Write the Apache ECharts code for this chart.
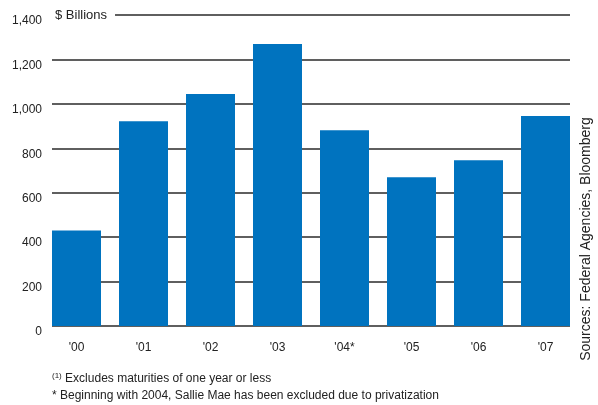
<!DOCTYPE html>
<html>
<head>
<meta charset="utf-8">
<script src="https://cdn.jsdelivr.net/npm/echarts@6/dist/echarts.min.js"></script>
<style>
  html, body { margin: 0; padding: 0; background: #fff; }
  #chart { width: 598px; height: 405px; }
</style>
</head>
<body>
<div id="chart"></div>
<script>
// Annual issuance, $ billions
const years = ["'00", "'01", "'02", "'03", "'04*", "'05", "'06", "'07"];
const issuance = [430, 922, 1044, 1269, 881, 670, 746, 945];
const yMin = 0, yMax = 1400, yStep = 200;

const unitLabel = '$ Billions';
const footnote1 = 'Excludes maturities of one year or less';
const footnote2 = '* Beginning with 2004, Sallie Mae has been excluded due to privatization';
const sourceNote = 'Sources: Federal Agencies, Bloomberg';

const FONT = 'Liberation Sans, Arial, sans-serif';
const TEXT = '#222';
const BAR = '#0073bf';

const chart = echarts.init(document.getElementById('chart'), null, { renderer: 'canvas' });

const gridTop = 15, gridBottom = 79;

chart.setOption({
  animation: false,
  backgroundColor: '#fff',
  grid: [
    // bars
    { left: 43, right: 19, top: gridTop, bottom: gridBottom },
    // horizontal rules and value labels
    { left: 52, right: 28, top: gridTop, bottom: gridBottom }
  ],
  xAxis: [
    {
      gridIndex: 0, type: 'category', data: years,
      axisLine: { show: false }, axisTick: { show: false },
      axisLabel: { margin: 16, fontSize: 12, color: TEXT, fontFamily: FONT }
    },
    {
      gridIndex: 1, type: 'value', min: 0, max: 1, show: false
    }
  ],
  yAxis: [
    { gridIndex: 0, type: 'value', min: yMin, max: yMax, interval: yStep, show: false },
    {
      gridIndex: 1, type: 'value', min: yMin, max: yMax, interval: yStep,
      axisLine: { show: false }, axisTick: { show: false },
      splitLine: { show: true, lineStyle: { color: '#2a2a2a', width: 1.6 } },
      axisLabel: {
        margin: 10, fontSize: 12, color: TEXT, fontFamily: FONT,
        verticalAlign: 'top',
        formatter: v => v.toLocaleString('en-US')
      }
    }
  ],
  series: [
    {
      type: 'bar', xAxisIndex: 0, yAxisIndex: 0,
      data: issuance, barWidth: 49,
      itemStyle: { color: BAR },
      z: 3
    }
  ],
  graphic: [
    {
      type: 'text', left: 52, top: 7, z: 10,
      style: {
        text: unitLabel, font: '13px ' + FONT, fill: TEXT,
        backgroundColor: '#fff', padding: [2, 8, 2, 3]
      }
    },
    {
      type: 'text', left: 52, top: 372,
      style: {
        text: '{sup|(1)} ' + footnote1,
        font: '12px ' + FONT, fill: TEXT,
        rich: { sup: { fontSize: 8, fontFamily: FONT, fill: TEXT, padding: [0, 0, 6, 0] } }
      }
    },
    {
      type: 'text', left: 52, top: 390,
      style: { text: footnote2, font: '12px ' + FONT, fill: TEXT }
    },
    {
      type: 'text', x: 586, y: 239, rotation: Math.PI / 2,
      style: {
        text: sourceNote, font: '14px ' + FONT, fill: TEXT,
        align: 'center', verticalAlign: 'middle'
      }
    }
  ]
});
</script>
</body>
</html>
